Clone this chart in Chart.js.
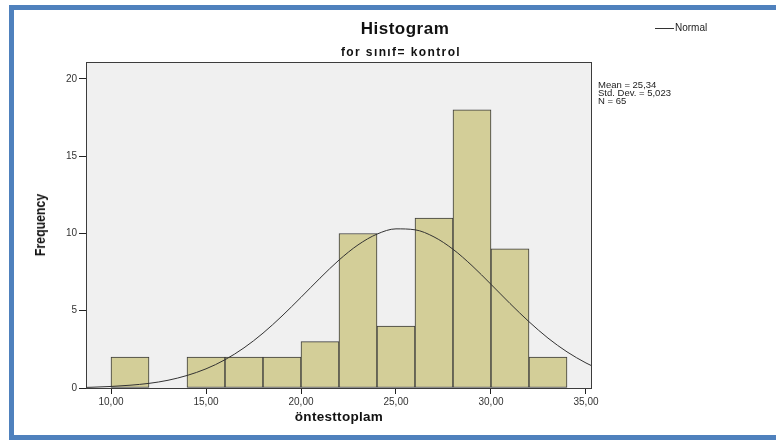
<!DOCTYPE html>
<html>
<head>
<meta charset="utf-8">
<script src="https://cdn.jsdelivr.net/npm/chart.js@4.4.1/dist/chart.umd.min.js"></script>
<style>
    body { margin: 0; background: #fff; font-family: "Liberation Sans", Arial, sans-serif; }
    #wrap { position: relative; width: 776px; height: 440px; overflow: hidden; }
    #frame { position: absolute; left: 9px; top: 5px; width: 800px; height: 435px; box-sizing: border-box; border: 5px solid #4f81bd; }
    canvas { position: absolute; left: 0; top: 0; }
    .txt { position: absolute; color: #111; white-space: nowrap; }
    #title { left: 305px; width: 200px; top: 19px; text-align: center; font-weight: bold; font-size: 17px; letter-spacing: 0.5px; }
    #subtitle { left: 301px; width: 200px; top: 45px; text-align: center; font-weight: bold; font-size: 12px; letter-spacing: 1.4px; }
    #xtitle { left: 239px; width: 200px; top: 409px; text-align: center; font-weight: bold; font-size: 13.5px; letter-spacing: 0.3px; }
    #ytitle { left: 40px; top: 225px; font-weight: bold; font-size: 14px; transform: translate(-50%, -50%) rotate(-90deg) scaleX(0.88); }
    #legend { left: 655px; top: 22px; font-size: 10px; color: #222; }
    #legend span { display: inline-block; width: 19px; height: 0; border-top: 1px solid #333; vertical-align: middle; margin-right: 1px; }
    #stats { left: 598px; top: 81px; font-size: 9.5px; line-height: 8px; color: #222; }
</style>
</head>
<body>
<div id="wrap">
    <div id="frame"></div>
    <canvas id="histChart" width="776" height="440"></canvas>
    <div class="txt" id="title">Histogram</div>
    <div class="txt" id="subtitle">for sınıf= kontrol</div>
    <div class="txt" id="xtitle">öntesttoplam</div>
    <div class="txt" id="ytitle">Frequency</div>
    <div class="txt" id="legend"><span></span>Normal</div>
    <div class="txt" id="stats">Mean = 25,34<br>Std. Dev. = 5,023<br>N = 65</div>
</div>
<script>
// bins of width 2, centres on the x axis
const binCenters = [11, 13, 15, 17, 19, 21, 23, 25, 27, 29, 31, 33];
const frequencies = [2, 0, 2, 2, 2, 3, 10, 4, 11, 18, 9, 2];

// normal curve
const curveX = [8.7, 9, 10, 11, 12, 13, 14, 15, 16, 17, 18, 19, 20, 21, 22, 23, 24, 25, 26, 27, 28, 29, 30, 31, 32, 33, 34, 35, 35.3];
const curveY = [0.04, 0.05, 0.1, 0.18, 0.3, 0.5, 0.81, 1.24, 1.83, 2.6, 3.55, 4.66, 5.87, 7.11, 8.28, 9.26, 9.96, 10.3, 10.24, 9.78, 8.98, 7.92, 6.71, 5.47, 4.29, 3.23, 2.34, 1.62, 1.44];

const xTicks = [10, 15, 20, 25, 30, 35];
const yTicks = [0, 5, 10, 15, 20];

const plotFrame = {
    id: 'plotFrame',
    beforeDraw(chart) {
        const { ctx, chartArea: a } = chart;
        ctx.save();
        ctx.fillStyle = '#f0f0f0';
        ctx.fillRect(a.left, a.top, a.right - a.left, a.bottom - a.top);
        ctx.restore();
    },
    afterDraw(chart) {
        const { ctx, chartArea: a } = chart;
        ctx.save();
        ctx.strokeStyle = '#3c3c3c';
        ctx.lineWidth = 1;
        ctx.strokeRect(a.left + 0.5, a.top + 0.5, a.right - a.left - 1, a.bottom - a.top);
        ctx.restore();
    }
};

const tickFont = { family: '"Liberation Sans", Arial, sans-serif', size: 10 };

new Chart(document.getElementById('histChart'), {
    data: {
        datasets: [{
            type: 'line',
            label: 'Normal',
            data: curveX.map((x, i) => ({ x: x, y: curveY[i] })),
            borderColor: '#333',
            borderWidth: 1,
            pointRadius: 0,
            cubicInterpolationMode: 'monotone',
            order: 0
        }, {
            type: 'bar',
            label: 'Frequency',
            data: binCenters.map((x, i) => ({ x: x, y: frequencies[i] })),
            backgroundColor: '#d3ce98',
            borderColor: '#3a3a3a',
            borderWidth: 1,
            borderSkipped: false,
            barPercentage: 1,
            categoryPercentage: 1,
            order: 1
        }]
    },
    options: {
        responsive: false,
        animation: false,
        devicePixelRatio: 1,
        layout: { padding: { top: 62, right: 184, left: 0, bottom: 0 } },
        plugins: { legend: { display: false }, tooltip: { enabled: false } },
        scales: {
            x: {
                type: 'linear',
                min: 8.684,
                max: 35.316,
                offset: false,
                afterFit: function(scale) { scale.height = 52; },
                afterBuildTicks: function(scale) { scale.ticks = xTicks.map(v => ({ value: v })); },
                grid: { offset: false, drawOnChartArea: false, tickLength: 6, color: '#222' },
                border: { display: false },
                ticks: {
                    font: tickFont,
                    color: '#333',
                    padding: 2,
                    maxRotation: 0,
                    callback: function(value) { return value.toFixed(2).replace('.', ','); }
                }
            },
            y: {
                min: 0,
                max: 21.1,
                afterFit: function(scale) { scale.width = 86; },
                afterBuildTicks: function(scale) { scale.ticks = yTicks.map(v => ({ value: v })); },
                grid: { drawOnChartArea: false, tickLength: 7, color: '#222' },
                border: { display: false },
                ticks: { font: tickFont, color: '#333', padding: 2 }
            }
        }
    },
    plugins: [plotFrame]
});
</script>
</body>
</html>
